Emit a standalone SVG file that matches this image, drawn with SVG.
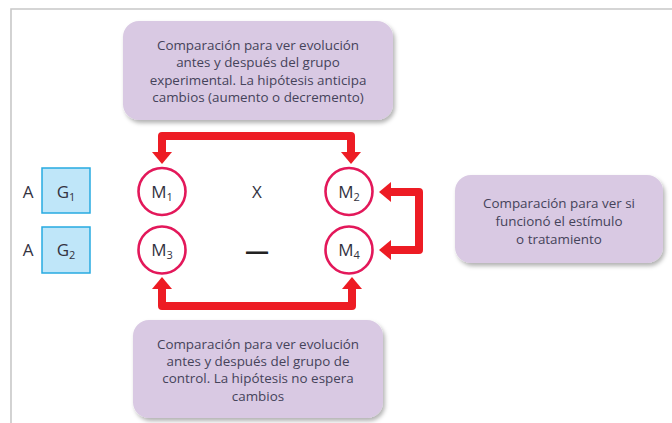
<svg xmlns="http://www.w3.org/2000/svg" width="672" height="423" viewBox="0 0 672 423">
<defs>
<filter id="sh" x="-10%" y="-10%" width="125%" height="130%">
<feDropShadow dx="2" dy="3" stdDeviation="2" flood-color="#000" flood-opacity="0.3"/>
</filter>
<marker id="ah" viewBox="0 -10 12 20" refX="0" refY="0" markerWidth="12" markerHeight="20" markerUnits="userSpaceOnUse" orient="auto-start-reverse">
<path d="M0,-10 L12,0 L0,10 z" fill="#ed1c24"/>
</marker>
<style>
.note{fill:#d9c9e3;filter:url(#sh)}
.nt{font-family:"Open Sans","Liberation Sans",sans-serif;font-size:13.4px;fill:#45435a;text-anchor:middle}
.mc{fill:#fff;stroke:#e3185a;stroke-width:2.6}
.lb{font-family:"Open Sans","Liberation Sans",sans-serif;font-size:17px;fill:#33333f;text-anchor:middle}
.sub{font-size:11px}
.gb{fill:#bfe6f9;stroke:#27aae1;stroke-width:1.5}
.con{fill:none;stroke:#ed1c24;stroke-width:8;stroke-linejoin:round;marker-start:url(#ah);marker-end:url(#ah)}
</style>
</defs>
<rect width="672" height="423" fill="#fff"/>
<path d="M11,423 V9 H672" fill="none" stroke="#c8c8c8" stroke-width="1.6"/>

<g id="note-top">
<rect class="note" x="123" y="21" width="270" height="99" rx="16"/>
<text class="nt" x="258" y="50">Comparación para ver evolución</text>
<text class="nt" x="258" y="67">antes y después del grupo</text>
<text class="nt" x="258" y="85">experimental. La hipótesis anticipa</text>
<text class="nt" x="258" y="102">cambios (aumento o decremento)</text>
</g>

<g id="note-right">
<rect class="note" x="455" y="175" width="208" height="88" rx="16"/>
<text class="nt" x="559" y="208">Comparación para ver si</text>
<text class="nt" x="559" y="226">funcionó el estímulo</text>
<text class="nt" x="559" y="244">o tratamiento</text>
</g>

<g id="note-bottom">
<rect class="note" x="133" y="320" width="250" height="98" rx="16"/>
<text class="nt" x="258" y="349">Comparación para ver evolución</text>
<text class="nt" x="258" y="366">antes y después del grupo de</text>
<text class="nt" x="258" y="383">control. La hipótesis no espera</text>
<text class="nt" x="258" y="401">cambios</text>
</g>

<g id="row1-label"><text class="lb" x="28" y="198">A</text></g>
<g id="G1">
<rect class="gb" x="42" y="168" width="48" height="45"/>
<text class="lb" x="66" y="198">G<tspan class="sub" dy="3">1</tspan></text>
</g>
<g id="row2-label"><text class="lb" x="28" y="256">A</text></g>
<g id="G2">
<rect class="gb" x="42" y="227" width="48" height="46"/>
<text class="lb" x="66" y="256">G<tspan class="sub" dy="3">2</tspan></text>
</g>

<g id="M1">
<circle class="mc" cx="162" cy="191.5" r="23.5"/>
<text class="lb" x="162" y="197.5">M<tspan class="sub" dy="3">1</tspan></text>
</g>
<g id="M2">
<circle class="mc" cx="349" cy="191.5" r="23.5"/>
<text class="lb" x="349" y="197.5">M<tspan class="sub" dy="3">2</tspan></text>
</g>
<g id="M3">
<circle class="mc" cx="162" cy="250" r="23.5"/>
<text class="lb" x="162" y="256">M<tspan class="sub" dy="3">3</tspan></text>
</g>
<g id="M4">
<circle class="mc" cx="349" cy="250" r="23.5"/>
<text class="lb" x="349" y="256">M<tspan class="sub" dy="3">4</tspan></text>
</g>

<g id="X-label"><text class="lb" x="257" y="198">X</text></g>
<g id="dash-label"><text class="lb" x="257" y="259" style="font-size:24px;font-weight:bold;fill:#222">—</text></g>

<g id="connectors">
<path class="con" d="M162,152 V136 H351 V152"/>
<path class="con" d="M162,289 V306 H352 V289"/>
<path class="con" d="M391,192 H419 V250 H391"/>
</g>
</svg>
